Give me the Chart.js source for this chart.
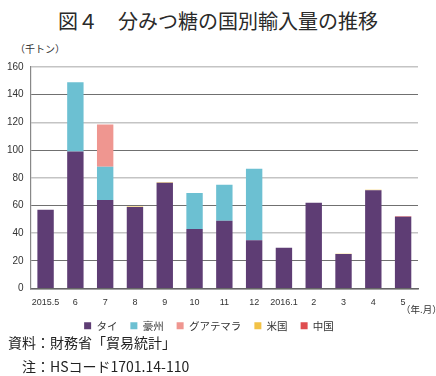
<!DOCTYPE html>
<html>
<head>
<meta charset="utf-8">
<script src="https://cdn.jsdelivr.net/npm/chart.js@4/dist/chart.umd.min.js"></script>
<style>
  body { margin: 0; background: #fff; font-family: 'Noto Sans CJK JP', sans-serif; }
  #wrap { position: relative; width: 436px; height: 376px; overflow: hidden; }
  #box { position: absolute; left: 0; top: 0; width: 436px; height: 341px; }
  .txt { position: absolute; color: #222; white-space: nowrap; }
  #title { left: 0; width: 436px; top: 7px; text-align: center; font-size: 20px; line-height: 28px; color: #2a2a2a; }
  #unit { left: 15px; top: 41px; font-size: 10px; color: #333; }
  #ym { left: 401px; top: 303px; font-size: 9.5px; line-height: 12px; color: #333; }
  #src { left: 8px; top: 332px; font-size: 14px; line-height: 20px; }
  #note { left: 22px; top: 356px; font-size: 14px; line-height: 20px; }
</style>
</head>
<body>
<div id="wrap">
  <div class="txt" id="title">図４　分みつ糖の国別輸入量の推移</div>
  <div class="txt" id="unit">（千トン）</div>
  <div id="box"><canvas id="chart"></canvas></div>
  <div class="txt" id="ym">（年.月）</div>
  <div class="txt" id="src">資料：財務省「貿易統計」</div>
  <div class="txt" id="note">注：HSコード1701.14-110</div>
</div>
<script>
const months = ['2015.5', '6', '7', '8', '9', '10', '11', '12', '2016.1', '2', '3', '4', '5'];
const thai = [57, 99, 64, 59, 76.5, 43, 49, 35, 29.5, 62, 25, 71, 52];
const australia = [0, 50, 24, 0, 0, 26, 26, 51.5, 0, 0, 0, 0, 0];
const guatemala = [0, 0, 30.5, 0, 0, 0, 0, 0, 0, 0, 0, 0, 0];
const usa = [0, 0, 0, 0.3, 0.3, 0, 0, 0, 0, 0, 0.3, 0.4, 0];
const china = [0, 0, 0, 0, 0, 0, 0, 0, 0, 0, 0, 0, 0.3];
const yTicks = [0, 20, 40, 60, 80, 100, 120, 140, 160];

const seriesDefs = [
  { label: 'タイ', data: thai, color: '#5e3d74' },
  { label: '豪州', data: australia, color: '#6cc0d2' },
  { label: 'グアテマラ', data: guatemala, color: '#ef9690' },
  { label: '米国', data: usa, color: '#f2c246' },
  { label: '中国', data: china, color: '#df4d4f' },
];

const ctx = document.getElementById('chart').getContext('2d');
new Chart(ctx, {
  type: 'bar',
  data: {
    labels: months,
    datasets: seriesDefs.map((s) => ({
      label: s.label,
      data: s.data,
      backgroundColor: s.color,
      borderWidth: 0,
      categoryPercentage: 1,
      barPercentage: 0.55,
    })),
  },
  options: {
    responsive: true,
    maintainAspectRatio: false,
    animation: false,
    layout: { padding: { top: 67, right: 18, left: 0, bottom: 0 } },
    plugins: {
      tooltip: { enabled: false },
      legend: {
        position: 'bottom',
        labels: {
          color: '#333',
          boxWidth: 7,
          boxHeight: 7,
          padding: 13,
          font: { family: 'Noto Sans CJK JP', size: 10.5 },
        },
      },
    },
    scales: {
      x: {
        stacked: true,
        grid: { display: false },
        border: { display: true, color: '#666', width: 1.5 },
        ticks: { color: '#333', font: { family: 'Liberation Sans', size: 9 }, padding: 0, maxRotation: 0, autoSkip: false },
      },
      y: {
        stacked: true,
        min: 0,
        max: 160,
        afterBuildTicks: (axis) => { axis.ticks = yTicks.map((v) => ({ value: v })); },
        grid: {
          color: (c) => (c.tick && c.tick.value % 40 === 20 ? '#707070' : '#c4c4c4'),
          lineWidth: (c) => (c.tick && c.tick.value % 40 === 20 ? 1 : 1.6),
          drawTicks: false,
        },
        border: { display: true, color: '#888', width: 1.2 },
        ticks: { color: '#333', font: { family: 'Liberation Sans', size: 10 }, padding: 7 },
      },
    },
  },
});
</script>
</body>
</html>
